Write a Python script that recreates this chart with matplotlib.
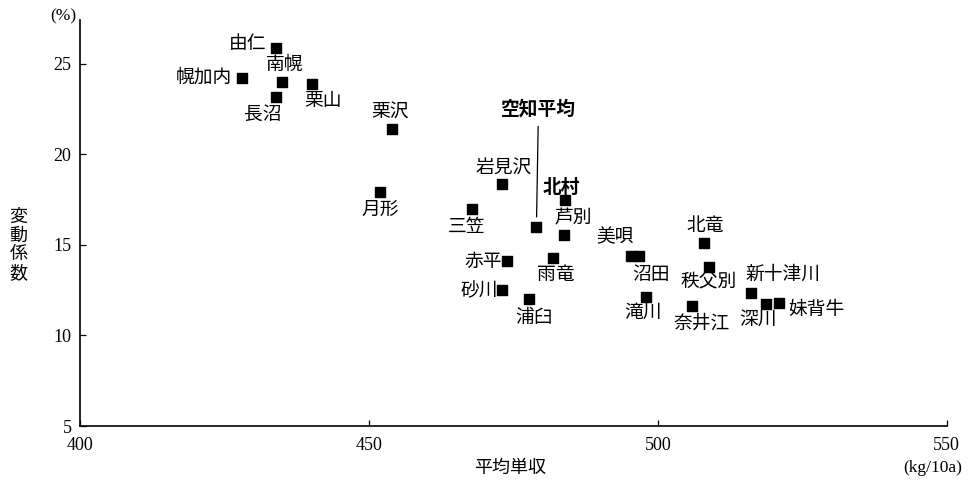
import matplotlib
matplotlib.use("Agg")
from matplotlib import pyplot as plt

plt.rcParams['font.family'] = ['Noto Sans CJK JP', 'DejaVu Sans']

# 市町村ごとの平均単収 (kg/10a) と変動係数 (%)
names = ['由仁', '幌加内', '南幌', '長沼', '栗山', '栗沢', '月形', '三笠',
         '岩見沢', '空知平均', '北村', '芦別', '赤平', '雨竜', '美唄', '沼田',
         '砂川', '浦臼', '滝川', '北竜', '秩父別', '新十津川', '深川', '妹背牛',
         '奈井江']
yield_avg = [433.9, 428.0, 434.9, 433.9, 440.1, 454.0, 451.9, 467.9,
             473.0, 479.0, 483.9, 483.8, 473.9, 481.9, 495.4, 496.8,
             473.0, 477.7, 497.9, 508.0, 508.9, 516.1, 518.8, 520.9,
             505.9]
cv = [25.84, 24.2, 24.0, 23.14, 23.86, 21.39, 17.9, 17.0,
      18.34, 16.0, 17.47, 15.54, 14.1, 14.29, 14.38, 14.38,
      12.5, 11.99, 12.1, 15.08, 13.8, 12.36, 11.73, 11.77,
      11.62]
# ラベルの位置 (点からのずれ, pixel)
label_dx = [-28, -38, 3, -13, 11, -2, 0, -6,
            2, 2, -3, 9, -24, 3, -16, 12,
            -22, 5, -3, 1, -1, 32, -8, 38,
            10]
label_dy = [5, 1, 17, -17, -16, 17, -17, -18,
            16, 118, 13, 17, 0, -17, 19, -18,
            -1, -18, -15, 18, -15, 18, -15, -6,
            -17]
bold_names = ['空知平均', '北村']

x_ticks = [400, 450, 500, 550]
y_ticks = [5, 10, 15, 20, 25]

fig = plt.figure(figsize=(9.68, 4.88), dpi=100)
ax = fig.add_axes([0.0826, 0.127, 0.8954, 0.832])

ax.scatter(yield_avg, cv, marker='s', s=50, color='black', zorder=3)

for n, x, y, dx, dy in zip(names, yield_avg, cv, label_dx, label_dy):
    w = 'bold' if n in bold_names else 'normal'
    if n == '空知平均':
        ax.annotate(n, (x, y), xytext=(dx, dy), textcoords='offset pixels',
                    ha='center', va='center', fontsize=13.5, fontweight=w,
                    arrowprops=dict(arrowstyle='-', lw=0.9, color='black',
                                    shrinkA=4, shrinkB=7))
    else:
        ax.annotate(n, (x, y), xytext=(dx, dy), textcoords='offset pixels',
                    ha='center', va='center', fontsize=13.5, fontweight=w)

ax.set_xlim(400, 550)
ax.set_ylim(5, 27.4)
ax.set_xticks(x_ticks)
ax.set_yticks(y_ticks)
ax.tick_params(direction='in', length=4, width=0.9)
for lab in ax.get_xticklabels() + ax.get_yticklabels():
    lab.set_family('Liberation Serif')
    lab.set_fontsize(13)
ax.tick_params(axis='x', pad=8)
ax.tick_params(axis='y', pad=6)

for s in ['top', 'right']:
    ax.spines[s].set_visible(False)
for s in ['left', 'bottom']:
    ax.spines[s].set_linewidth(1.2)

fig.text(0.527, 0.041, '平均単収', ha='center', va='center', fontsize=13)
fig.text(0.994, 0.041, '(kg/10a)', ha='right', va='center', fontsize=12.5,
         family='Liberation Serif')
fig.text(0.019, 0.498, '変\n動\n係\n数', ha='center', va='center', fontsize=13,
         linespacing=1.05)
fig.text(0.065, 0.967, '(%)', ha='center', va='center', fontsize=12.5,
         family='Liberation Serif')

fig.savefig('out.png', dpi=100, facecolor='white')
